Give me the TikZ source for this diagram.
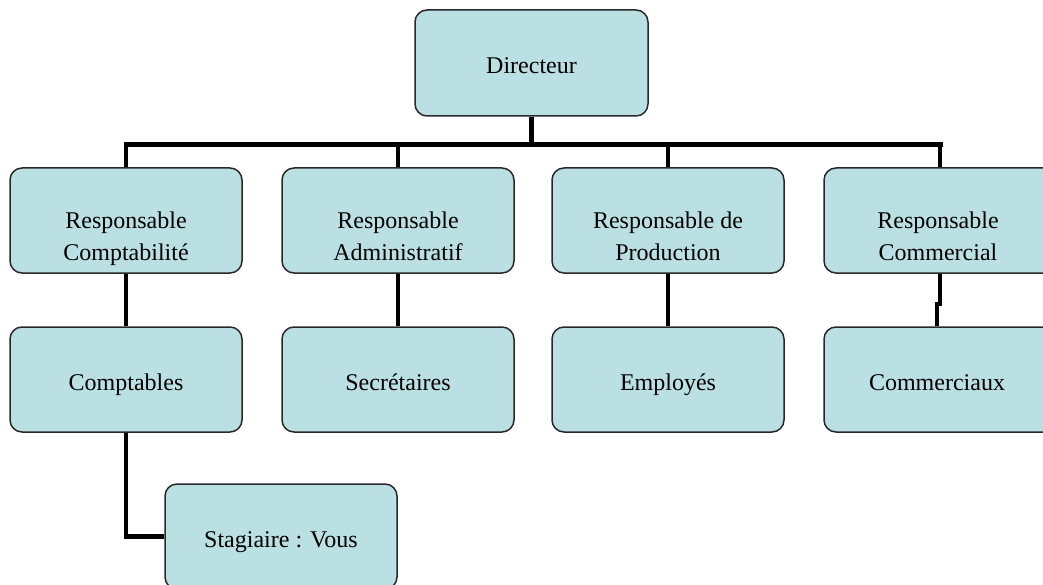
\documentclass[tikz,border=0pt]{standalone}
\usepackage{fontspec}
\setmainfont{Liberation Serif}
\definecolor{boxfill}{RGB}{186,224,227}
\definecolor{boxline}{RGB}{40,40,40}
\begin{document}
\begin{tikzpicture}[x=1pt,y=-1pt,
  box/.style={draw=boxline, line width=1.5pt, fill=boxfill, rounded corners=12pt,
    minimum width=232pt, minimum height=105pt, inner sep=0pt},
  txt/.style={font=\fontsize{24}{32}\selectfont, align=center, inner sep=0pt},
  conn/.style={line width=4.5pt, draw=black},
  bus/.style={line width=5pt, draw=black, line cap=rect}]
\useasboundingbox (0,0) rectangle (1043,585);

% boxes
\node[box, minimum width=233pt, minimum height=106pt] (dir) at (531.5,63) {};
\node[box] (rc)   at (126,220.5) {};
\node[box] (ra)   at (398,220.5) {};
\node[box] (rp)   at (668,220.5) {};
\node[box] (rcom) at (940,220.5) {};
\node[box] (comp) at (126,379.5) {};
\node[box] (sec)  at (398,379.5) {};
\node[box] (emp)  at (668,379.5) {};
\node[box] (com)  at (940,379.5) {};
\node[box] (stag) at (281,536.5) {};

% texts
\node[txt] (dir-t)  at ([yshift=-4.6pt]dir.center)   {Directeur\strut};
\node[txt] (rc-t)   at ([yshift=-18pt]rc.center)   {Responsable\strut\\Comptabilité\strut};
\node[txt] (ra-t)   at ([yshift=-18pt]ra.center)   {Responsable\strut\\Administratif\strut};
\node[txt] (rp-t)   at ([yshift=-18pt]rp.center)   {Responsable de\strut\\Production\strut};
\node[txt] (rcom-t) at ([yshift=-18pt,xshift=-2pt]rcom.center) {Responsable\strut\\Commercial\strut};
\node[txt] (comp-t) at ([yshift=-4.6pt]comp.center)  {Comptables\strut};
\node[txt] (sec-t)  at ([yshift=-4.6pt]sec.center)   {Secrétaires\strut};
\node[txt] (emp-t)  at ([yshift=-4.6pt]emp.center)   {Employés\strut};
\node[txt] (com-t)  at ([yshift=-4.6pt,xshift=-3pt]com.center) {Commerciaux\strut};
\node[txt] (stag-t) at ([yshift=-4.6pt]stag.center)  {Stagiaire : Vous\strut};

% connectors
\coordinate (busy) at (0,145);
\draw[conn] (dir.south) -- (dir.south |- busy);
\draw[bus] (rc.north |- busy) -- (rcom.north |- busy);
\foreach \n in {rc,ra,rp,rcom} \draw[conn] (\n.north |- busy) -- (\n.north);
\draw[conn] (rc.south) -- (comp.north);
\draw[conn] (ra.south) -- (sec.north);
\draw[conn] (rp.south) -- (emp.north);
\draw[conn] (rcom.south) -- ++(0,30) -| ([xshift=-3pt]com.north);
\draw[conn] (comp.south) |- (stag.west);
\end{tikzpicture}
\end{document}
